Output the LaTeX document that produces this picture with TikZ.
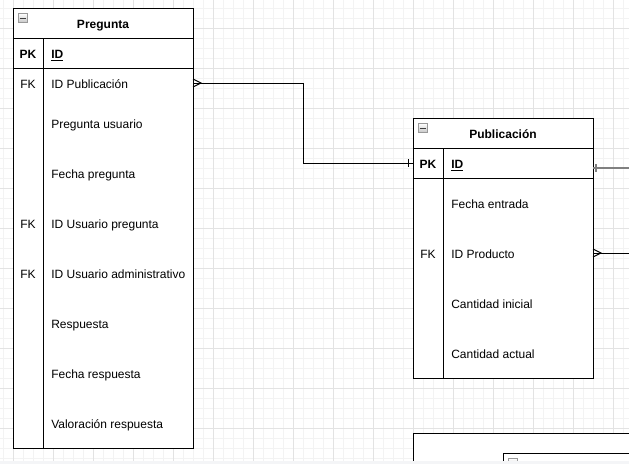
\documentclass[tikz,border=0pt]{standalone}
\usepackage{fontspec}
\setmainfont{Liberation Sans}
\definecolor{gminor}{HTML}{F3F3F3}
\definecolor{gmajor}{HTML}{E3E3E3}
\definecolor{selgray}{HTML}{808080}
\definecolor{bandc}{HTML}{F4F5F7}
\begin{document}
\begin{tikzpicture}[x=0.75pt,y=-0.75pt,
  minorline/.style={gminor,line width=0.75pt},
  majorline/.style={gmajor,line width=0.75pt},
  tbl/.style={draw=black,line width=0.75pt,fill=white,inner sep=0pt,anchor=north west},
  sep/.style={black,line width=0.75pt},
  fld/.style={inner sep=0pt,anchor=base west,yshift=-4.4pt,font=\fontsize{9pt}{11pt}\selectfont},
  key/.style={inner sep=0pt,anchor=base,yshift=-4.4pt,font=\fontsize{9pt}{11pt}\selectfont},
  ttl/.style={inner sep=0pt,anchor=base,yshift=-4.4pt,font=\fontsize{9pt}{11pt}\selectfont\bfseries},
  conn/.style={black,line width=0.75pt},
  selconn/.style={selgray,line width=1.5pt},
  iconbox/.style={draw=gray!80,line width=0.6pt,top color=white,bottom color=gray!45,minimum size=6.75pt,inner sep=0pt}
]
\useasboundingbox (0,0) rectangle (629,464);
\begin{scope}
\clip (0,0) rectangle (629,464);
% grid
\foreach \x in {3,13,...,623} \draw[minorline] (\x,0) -- (\x,464);
\foreach \y in {8,18,...,458} \draw[minorline] (0,\y) -- (629,\y);
\foreach \x in {13,53,...,613} \draw[majorline] (\x,0) -- (\x,464);
\foreach \y in {28,68,...,428} \draw[majorline] (0,\y) -- (629,\y);

% ---------- Pregunta ----------
\node[tbl,minimum width=135pt,minimum height=330pt] (preg) at (13,8) {};
\draw[sep] (13,38) -- (193,38);
\draw[sep] (13,68) -- (193,68);
\draw[sep] (43,38) -- (43,448);
\node[iconbox] (pregicon) at (22.5,18) {};
\draw[black!75,line width=0.6pt] (19.5,18) -- (25.5,18);
\node[ttl] (pregt) at (103,23) {Pregunta};
\node[key,font=\fontsize{9pt}{11pt}\selectfont\bfseries] (ppk) at (28,53) {PK};
\node[fld,font=\fontsize{9pt}{11pt}\selectfont\bfseries] (pid) at (51,53) {\underline{ID}};
\node[key] (pfk1) at (28,83) {FK};
\node[fld] (pf1) at (51,83) {ID Publicación};
\node[fld] (pf2) at (51,123) {Pregunta usuario};
\node[fld] (pf3) at (51,173) {Fecha pregunta};
\node[key] (pfk4) at (28,223) {FK};
\node[fld] (pf4) at (51,223) {ID Usuario pregunta};
\node[key] (pfk5) at (28,273) {FK};
\node[fld] (pf5) at (51,273) {ID Usuario administrativo};
\node[fld] (pf6) at (51,323) {Respuesta};
\node[fld] (pf7) at (51,373) {Fecha respuesta};
\node[fld] (pf8) at (51,423) {Valoración respuesta};

% ---------- Publicacion ----------
\node[tbl,minimum width=135pt,minimum height=195pt] (publ) at (413,118) {};
\draw[sep] (413,148) -- (593,148);
\draw[sep] (413,178) -- (593,178);
\draw[sep] (443,148) -- (443,378);
\node[iconbox] (publicon) at (422.5,128) {};
\draw[black!75,line width=0.6pt] (419.5,128) -- (425.5,128);
\node[ttl] (publt) at (503,133) {Publicación};
\node[key,font=\fontsize{9pt}{11pt}\selectfont\bfseries] (qpk) at (428,163) {PK};
\node[fld,font=\fontsize{9pt}{11pt}\selectfont\bfseries] (qid) at (451,163) {\underline{ID}};
\node[fld] (qf1) at (451,203) {Fecha entrada};
\node[key] (qfk2) at (428,253) {FK};
\node[fld] (qf2) at (451,253) {ID Producto};
\node[fld] (qf3) at (451,303) {Cantidad inicial};
\node[fld] (qf4) at (451,353) {Cantidad actual};

% ---------- connector Pregunta -> Publicacion ----------
\coordinate (ca) at (193,83);
\coordinate (cb) at (413,163);
\draw[conn] (ca) -- ++(110,0) |- (cb);
\draw[conn] (193,79) -- (201,83) -- (193,87);
\draw[conn] (408,159) -- (408,167);

% ---------- connectors leaving to the right ----------
\coordinate (cc) at (593,168);
\coordinate (ccend) at (629,168);
\draw[selconn] (cc) -- (ccend);
\draw[selconn] (596,164) -- (596,172);
\coordinate (cd) at (593,253);
\coordinate (cdend) at (629,253);
\draw[conn] (cd) -- (cdend);
\draw[conn] (593,249) -- (601,253) -- (593,257);

% ---------- bottom shapes ----------
\node[tbl,minimum width=180pt,minimum height=60pt] (box1) at (413,433) {};
\node[tbl,minimum width=120pt,minimum height=40pt] (box2) at (503,453) {};
\node[iconbox] (box2icon) at (512.5,463) {};

% bottom band
\fill[bandc] (0,461) rectangle (629,464);
\end{scope}
\end{tikzpicture}
\end{document}
